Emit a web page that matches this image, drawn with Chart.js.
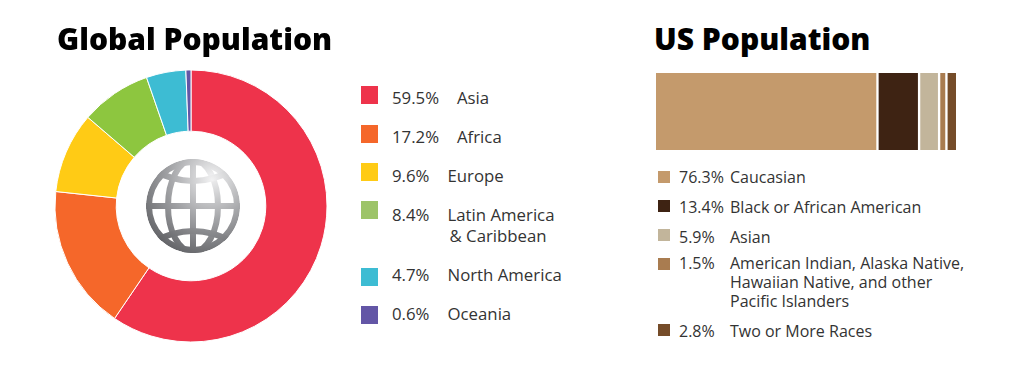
<!DOCTYPE html>
<html>
<head>
<meta charset="utf-8">
<script src="https://cdn.jsdelivr.net/npm/chart.js@4/dist/chart.umd.min.js"></script>
<style>
html,body{margin:0;padding:0;background:#fff;overflow:hidden}
#stage{position:relative;width:1025px;height:383px;font-family:"Open Sans",sans-serif;color:#333}
canvas{position:absolute}
.t{position:absolute;white-space:pre;line-height:1;transform:translateY(-50%)}
.title{font-weight:800;font-size:30px;color:#000}
.g{font-size:16.8px}
.u{font-size:16px}
.sw{position:absolute}
#globe{position:absolute;left:146px;top:158.5px;width:94px;height:94px}
</style>
</head>
<body>
<div id="stage">
<canvas id="donut" width="300" height="300" style="left:41px;top:56px;width:300px;height:300px"></canvas>
<canvas id="bar" width="300" height="77" style="left:656px;top:73px;width:300px;height:77px"></canvas>
<svg id="globe" viewBox="0 0 94 94">
<defs>
<radialGradient id="gl" gradientUnits="userSpaceOnUse" cx="66" cy="18" r="95">
<stop offset="0" stop-color="#f2f2f3"/><stop offset="0.45" stop-color="#a3a4a7"/><stop offset="1" stop-color="#4f5054"/>
</radialGradient>
<clipPath id="c"><circle cx="47" cy="47" r="47"/></clipPath>
</defs>
<g clip-path="url(#c)" fill="none" stroke="url(#gl)" stroke-width="6">
<circle cx="47" cy="47" r="44"/>
<ellipse cx="47" cy="47" rx="25" ry="46"/>
<path d="M47 0V94M0 47H94"/>
<path d="M7 8 Q47 30 87 8" transform="translate(0,3)"/>
<path d="M7 86 Q47 64 87 86" transform="translate(0,-3)"/>
</g>
</svg>
</div>
<script>
const globalCategories=["Asia","Africa","Europe","Latin America\n & Caribbean","North America","Oceania"];
const globalValues=[59.5,17.2,9.6,8.4,4.7,0.6];
const globalSlice=["#EE334B","#F5672A","#FFCB15","#8DC63F","#3DBCD3","#6356A6"];
const globalSwatch=["#EE334B","#F5672A","#FFCB15","#9DC468","#3DBCD3","#6356A6"];
const usCategories=["Caucasian","Black or African American","Asian","American Indian, Alaska Native,\nHawaiian Native, and other\nPacific Islanders","Two or More Races"];
const usValues=[76.3,13.4,5.9,1.5,2.8];
const usColors=["#C49A6C","#3E2313","#C2B59B","#A97C50","#754C29"];

const gapUnits=1.04;
const stage=document.getElementById('stage');
function text(str,x,y,cls){const d=document.createElement('div');d.className='t '+cls;d.textContent=str;d.style.left=x+'px';d.style.top=y+'px';stage.appendChild(d);return d;}
function box(x,y,w,h,c){const d=document.createElement('div');d.className='sw';d.style.cssText+=`left:${x}px;top:${y}px;width:${w}px;height:${h}px;background:${c}`;stage.appendChild(d);}

text("Global Population",57,39,'title');
text("US Population",654,39,'title');

const gSwatchY=[86,125,163,201,268,306];
const gLineY=[[98],[137],[176],[215,236],[275],[314]];
const gNameX=[457,457,447.5,447.5,447.5,447.5];
globalCategories.forEach((n,i)=>{
  box(361,gSwatchY[i],17,18,globalSwatch[i]);
  text(globalValues[i].toFixed(1)+'%',392,gLineY[i][0],'g');
  n.split('\n').forEach((l,j)=>text(l.trim(),gNameX[i]+(j?2:0),gLineY[i][j],'g'));
});
const uSwatchY=[171,200,229,258,324];
const uLineY=[[177],[207],[237],[263,282,301],[331]];
usCategories.forEach((n,i)=>{
  box(658,uSwatchY[i],12,12,usColors[i]);
  text(usValues[i].toFixed(1)+'%',679,uLineY[i][0],'u');
  n.split('\n').forEach((l,j)=>text(l,730,uLineY[i][j],'u'));
});

new Chart(document.getElementById('donut'),{
  type:'doughnut',
  data:{labels:globalCategories,datasets:[{data:globalValues,backgroundColor:globalSlice,borderColor:'#fff',borderWidth:1}]},
  options:{responsive:false,animation:false,radius:136,cutout:'55%',plugins:{legend:{display:false},tooltip:{enabled:false}}}
});

let start=0;
const spans=usValues.map(v=>{const s=[start,start+v];start+=v+gapUnits;return s;});
new Chart(document.getElementById('bar'),{
  type:'bar',
  data:{labels:["US"],datasets:usValues.map((v,i)=>({label:usCategories[i],data:[spans[i]],backgroundColor:usColors[i],borderWidth:0,grouped:false,barPercentage:1,categoryPercentage:1}))},
  options:{indexAxis:'y',responsive:false,animation:false,layout:{padding:0},
    scales:{x:{display:false,min:0,max:start-gapUnits},y:{display:false}},
    plugins:{legend:{display:false},tooltip:{enabled:false}}}
});
</script>
</body>
</html>
